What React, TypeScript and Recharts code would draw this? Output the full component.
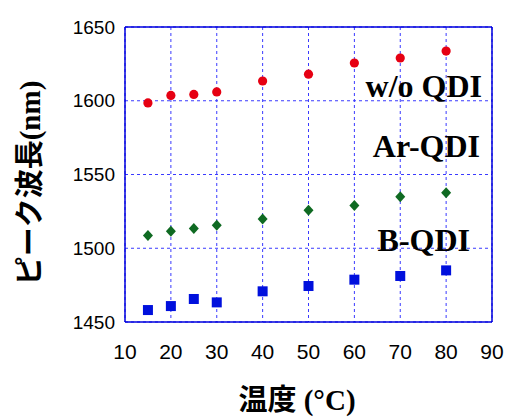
import { CartesianGrid, Label, ReferenceLine, Scatter, ScatterChart, XAxis, YAxis } from 'recharts';

const temps = [15, 20, 25, 30, 40, 50, 60, 70, 80];
const woQdi = [1598.5, 1603.6, 1604.3, 1606, 1613.4, 1618, 1625.6, 1629, 1633.7];
const arQdi = [1508.6, 1511.6, 1513.4, 1515.6, 1519.9, 1525.8, 1528.9, 1535, 1537.7];
const bQdi = [1458.1, 1460.8, 1465.6, 1463.3, 1470.8, 1474.4, 1478.7, 1481.2, 1485];

const xTicks = [10, 20, 30, 40, 50, 60, 70, 80, 90];
const yTicks = [1450, 1500, 1550, 1600, 1650];

const toPoints = (ys: number[]) => temps.map((t, i) => ({ x: t, y: ys[i] }));

const BLUE = '#0000dd';
const GRID = '#3a3aff';

const serif = '"Liberation Serif", "Times New Roman", serif';
const sans = '"Liberation Sans", Arial, sans-serif';
const jp = '"Noto Sans CJK JP", sans-serif';

const Dot = (p: any) => <circle cx={p.cx} cy={p.cy} r={4.6} fill="#e60012" />;
const Diamond = (p: any) => (
	<path d={`M${p.cx},${p.cy - 5.5}L${p.cx + 5},${p.cy}L${p.cx},${p.cy + 5.5}L${p.cx - 5},${p.cy}Z`} fill="#0f6a22" />
);
const Square = (p: any) => <rect x={p.cx - 5} y={p.cy - 5} width={10} height={10} fill="#0010dd" />;

const seriesLabel = { fontFamily: serif, fontWeight: 700, fontSize: 32, fill: '#000' };

export default function App() {
	return (
		<div style={{ position: 'absolute', left: 0, top: 0, width: 508, height: 417, background: '#fff' }}>
			<ScatterChart width={508} height={417} margin={{ top: 27, right: 16, bottom: 0, left: 0 }}>
				<CartesianGrid stroke={GRID} strokeDasharray="3 3" strokeWidth={1} />
				<XAxis
					type="number"
					dataKey="x"
					domain={[10, 90]}
					ticks={xTicks}
					height={95}
					tickSize={0}
					tickMargin={22}
					axisLine={{ stroke: BLUE, strokeWidth: 1.5 }}
					tick={{ fill: '#000', fontSize: 21, fontFamily: sans }}
				>
					<Label
						content={() => (
							<text x={297} y={410} textAnchor="middle" fontWeight={700} fontSize={29} fill="#000">
								<tspan fontFamily={jp}>温度</tspan>
								<tspan fontFamily={serif}> (°C)</tspan>
							</text>
						)}
					/>
				</XAxis>
				<YAxis
					type="number"
					dataKey="y"
					domain={[1450, 1650]}
					ticks={yTicks}
					width={125}
					tickSize={0}
					tickMargin={10}
					axisLine={{ stroke: BLUE, strokeWidth: 1.5 }}
					tick={{ fill: '#000', fontSize: 19, fontFamily: sans }}
				>
					<Label
						content={() => (
							<text
								x={0}
								y={0}
								transform="translate(40,183) rotate(-90)"
								textAnchor="middle"
								fontWeight={700}
								fontSize={29}
								fill="#000"
							>
								<tspan fontFamily={jp}>ピーク波長</tspan>
								<tspan fontFamily={serif}>(nm)</tspan>
							</text>
						)}
					/>
				</YAxis>
				<ReferenceLine x={90} stroke={BLUE} strokeWidth={1.5} />
				<ReferenceLine y={1650} stroke={BLUE} strokeWidth={1.5} />
				<Scatter data={toPoints(woQdi)} shape={Dot} isAnimationActive={false} />
				<Scatter data={toPoints(arQdi)} shape={Diamond} isAnimationActive={false} />
				<Scatter data={toPoints(bQdi)} shape={Square} isAnimationActive={false} />
			</ScatterChart>
			<svg width={508} height={417} style={{ position: 'absolute', left: 0, top: 0, pointerEvents: 'none' }}>
				<text x={482} y={97} textAnchor="end" style={seriesLabel}>w/o QDI</text>
				<text x={480} y={157} textAnchor="end" style={seriesLabel}>Ar-QDI</text>
				<text x={470} y={251} textAnchor="end" style={seriesLabel}>B-QDI</text>
			</svg>
		</div>
	);
}
